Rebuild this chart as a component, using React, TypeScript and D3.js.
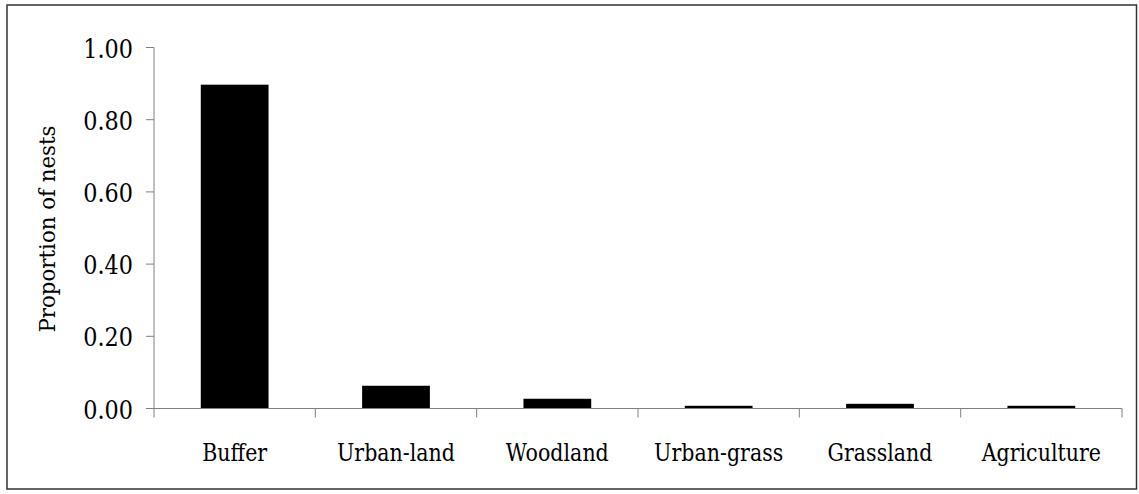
import React from "react";
import * as d3 from "d3";

const categories = ["Buffer", "Urban-land", "Woodland", "Urban-grass", "Grassland", "Agriculture"];
const values = [0.897, 0.063, 0.027, 0.0075, 0.013, 0.0075];
const yTicks = [0, 0.2, 0.4, 0.6, 0.8, 1.0];

const W = 1139;
const H = 494;
const left = 154;
const right = 1122;
const top = 47.5;
const bottom = 408.5;

export default function App() {
  const x = d3.scaleBand<string>().domain(categories).range([left, right]).paddingInner(0).paddingOuter(0);
  const y = d3.scaleLinear().domain([0, 1]).range([bottom, top]);
  const bw = x.bandwidth() * 0.42;
  const boundaries = categories.map((c) => x(c)!).concat([right]);
  return (
    <svg width={W} height={H} fontFamily="DejaVu Serif" style={{ position: "absolute", left: 0, top: 0 }}>
      <rect x={7} y={5} width={1129.5} height={484} fill="white" stroke="#333" strokeWidth={1.5} />
      {categories.map((c, i) => (
        <rect key={c} x={x(c)! + x.bandwidth() / 2 - bw / 2} y={y(values[i])} width={bw} height={bottom - y(values[i])} fill="#000" />
      ))}
      <line x1={left} x2={left} y1={top} y2={bottom} stroke="#808080" strokeWidth={1} />
      <line x1={left} x2={right} y1={bottom} y2={bottom} stroke="#808080" strokeWidth={1} />
      {yTicks.map((t) => (
        <g key={t}>
          <line x1={left - 8} x2={left} y1={y(t)} y2={y(t)} stroke="#808080" strokeWidth={1} />
          <text transform={`translate(133,${y(t) + 10}) scale(0.86,1)`} textAnchor="end" fontSize={26} fill="#000">
            {t.toFixed(2)}
          </text>
        </g>
      ))}
      {boundaries.map((b, i) => (
        <line key={i} x1={b} x2={b} y1={bottom} y2={bottom + 9} stroke="#808080" strokeWidth={1} />
      ))}
      {categories.map((c) => (
        <text key={c} transform={`translate(${x(c)! + x.bandwidth() / 2},461) scale(0.84,1)`} textAnchor="middle" fontSize={24.5} fill="#000">
          {c}
        </text>
      ))}
      <text transform={`translate(55,229) rotate(-90) scale(0.97,1)`} textAnchor="middle" fontSize={22} fill="#000">
        Proportion of nests
      </text>
    </svg>
  );
}
